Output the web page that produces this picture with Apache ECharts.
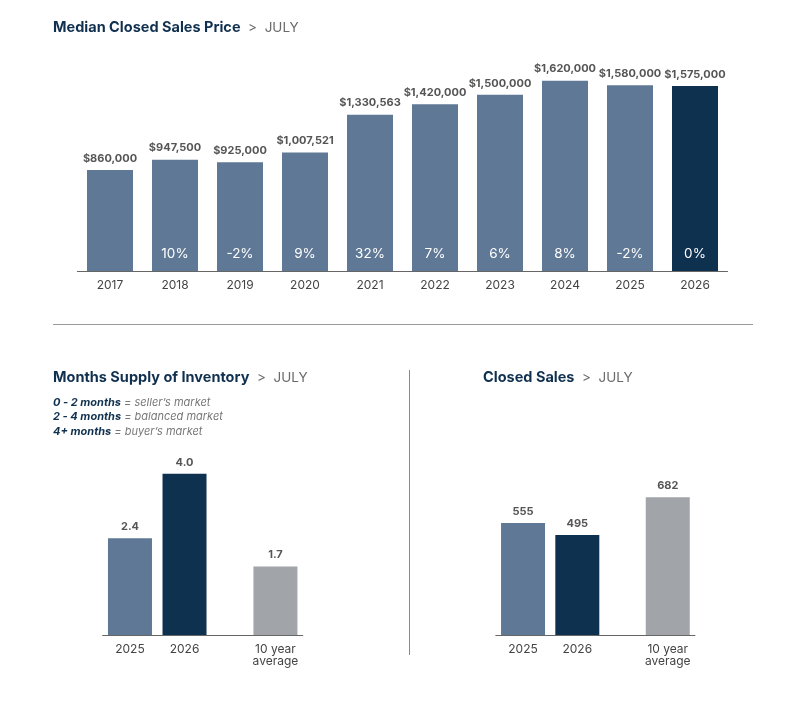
<!DOCTYPE html>
<html>
<head>
<meta charset="utf-8">
<script src="https://cdn.jsdelivr.net/npm/echarts@6/dist/echarts.min.js"></script>
<style>
  html, body { margin: 0; padding: 0; background: #fff; }
  #chart { width: 806px; height: 702px; }
</style>
</head>
<body>
<div id="chart"></div>
<script>
// median closed sales price, July
const priceYears = ['2017', '2018', '2019', '2020', '2021', '2022', '2023', '2024', '2025', '2026'];
const priceValues = [860000, 947500, 925000, 1007521, 1330563, 1420000, 1500000, 1620000, 1580000, 1575000];
const priceChange = ['', '10%', '-2%', '9%', '32%', '7%', '6%', '8%', '-2%', '0%'];

// months supply of inventory
const supplyCats = ['2025', '2026', '10 year\naverage'];
const supplyValues = [2.4, 4.0, 1.7];

// closed sales
const salesCats = ['2025', '2026', '10 year\naverage'];
const salesValues = [555, 495, 682];

const LIGHT = '#5e7895';
const DARK = '#0f3150';
const GREY = '#a1a4a8';
const FONT = 'Inter';

// three small bars sit in 11 slots, with a wider gap before the average
const SLOTS = 11;
const slotIdx = [1, 4, 9];
function slotted(cats, vals, colors) {
  const axis = new Array(SLOTS).fill('');
  const data = new Array(SLOTS).fill('-');
  cats.forEach((c, i) => {
    axis[slotIdx[i]] = c;
    data[slotIdx[i]] = { value: vals[i], itemStyle: { color: colors[i] } };
  });
  return { axis, data };
}

const supply = slotted(supplyCats, supplyValues, [LIGHT, DARK, GREY]);
const sales = slotted(salesCats, salesValues, [LIGHT, DARK, GREY]);

const chart = echarts.init(document.getElementById('chart'));

const titleRich = {
  b: { fontFamily: FONT, fontSize: 14.5, fontWeight: 'bold', color: '#10304f' },
  g: { fontFamily: FONT, fontSize: 13.5, fontWeight: 'normal', color: '#6b6b6b' }
};
const legRich = {
  b: { fontFamily: FONT, fontSize: 11, fontWeight: 'bold', fontStyle: 'italic', color: '#10304f', lineHeight: 14.5 },
  i: { fontFamily: FONT, fontSize: 11, fontWeight: 'normal', fontStyle: 'italic', color: '#777', lineHeight: 14.5 }
};

function xAxisBase(gridIndex, data) {
  return {
    type: 'category', gridIndex, data,
    axisTick: { show: false },
    axisLine: { lineStyle: { color: '#666', width: 1.2 } },
    axisLabel: { interval: 0, color: '#444', fontFamily: FONT, fontSize: 12, lineHeight: 12, margin: 8 }
  };
}
function yAxisBase(gridIndex, max) {
  return { type: 'value', gridIndex, min: 0, max, show: false, splitLine: { show: false } };
}
const valueLabel = {
  show: true, position: 'top', distance: 6,
  color: '#555', fontFamily: FONT, fontSize: 11, fontWeight: 'bold'
};

chart.setOption({
  animation: false,
  title: [
    {
      left: 53, top: 20, padding: 0,
      text: '{b|Median Closed Sales Price}{g|  >  JULY}',
      textStyle: { rich: titleRich }
    },
    {
      left: 53, top: 370, padding: 0,
      text: '{b|Months Supply of Inventory}{g|  >  JULY}',
      textStyle: { rich: titleRich }
    },
    {
      left: 483, top: 370, padding: 0,
      text: '{b|Closed Sales}{g|  >  JULY}',
      textStyle: { rich: titleRich }
    },
    {
      left: 53, top: 395, padding: 0,
      text: '{b|0 - 2 months}{i| = seller\u2019s market}\n{b|2 - 4 months}{i| = balanced market}\n{b|4+ months}{i| = buyer\u2019s market}',
      textStyle: { rich: legRich }
    }
  ],
  graphic: [
    { type: 'line', shape: { x1: 53, y1: 324.5, x2: 753, y2: 324.5 }, style: { stroke: '#9a9a9a', lineWidth: 1 } },
    { type: 'line', shape: { x1: 409.5, y1: 370, x2: 409.5, y2: 655 }, style: { stroke: '#8a8a8a', lineWidth: 1 } }
  ],
  grid: [
    { left: 77.5, width: 650, top: 36, height: 235 },
    { left: 102.7, width: 200, top: 433.5, height: 201.5 },
    { left: 495.9, width: 199, top: 473.4, height: 161.6 }
  ],
  xAxis: [
    xAxisBase(0, priceYears),
    xAxisBase(1, supply.axis),
    xAxisBase(2, sales.axis)
  ],
  yAxis: [
    yAxisBase(0, 2000000),
    yAxisBase(1, 5),
    yAxisBase(2, 800)
  ],
  series: [
    {
      type: 'bar', xAxisIndex: 0, yAxisIndex: 0, barWidth: 46, silent: true,
      data: priceValues.map((v, i) => ({
        value: v,
        itemStyle: { color: i === priceValues.length - 1 ? DARK : LIGHT }
      })),
      label: Object.assign({}, valueLabel, {
        formatter: p => '$' + p.value.toLocaleString('en-US')
      })
    },
    {
      // percent change written inside the bottom of each bar
      type: 'bar', xAxisIndex: 0, yAxisIndex: 0, barWidth: 46, barGap: '-100%', silent: true,
      data: priceValues,
      itemStyle: { color: 'rgba(0,0,0,0)' },
      label: {
        show: true, position: 'insideBottom', distance: 10,
        color: '#fff', fontFamily: FONT, fontSize: 13.5,
        formatter: p => priceChange[p.dataIndex]
      }
    },
    {
      type: 'bar', xAxisIndex: 1, yAxisIndex: 1, barWidth: 44, silent: true,
      data: supply.data,
      label: Object.assign({}, valueLabel, { formatter: p => p.value.toFixed(1) })
    },
    {
      type: 'bar', xAxisIndex: 2, yAxisIndex: 2, barWidth: 44, silent: true,
      data: sales.data,
      label: valueLabel
    }
  ]
});
</script>
</body>
</html>
